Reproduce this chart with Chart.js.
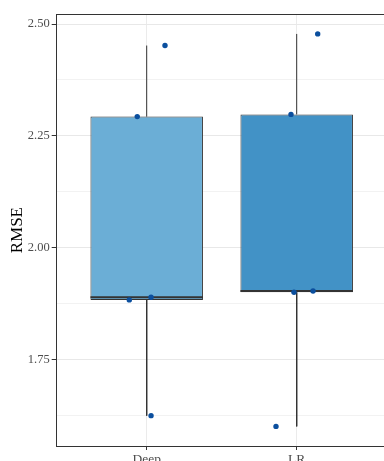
<!DOCTYPE html>
<html>
<head>
<meta charset="utf-8">
<script src="https://cdn.jsdelivr.net/npm/chart.js@4/dist/chart.umd.min.js"></script>
<style>
  html, body { margin: 0; padding: 0; background: #fff; overflow: hidden; }
  #wrap { width: 384px; height: 461px; }
</style>
</head>
<body>
<div id="wrap"><canvas id="c" width="384" height="461"></canvas></div>
<script>
// Model names on the x axis
const categories = ['Deep', 'LR'];
// RMSE per run, one array per model
const deepRmse = [2.452, 2.293, 1.883, 1.889, 1.624];
const lrRmse = [2.478, 2.298, 1.900, 1.903, 1.600];
// horizontal jitter of each point around its category (in category units)
const deepJitter = [0.122, -0.063, -0.116, 0.029, 0.029];
const lrJitter = [0.140, -0.038, -0.018, 0.109, -0.138];
// y axis ticks
const yMajorTicks = [1.75, 2.00, 2.25, 2.50];
const yMinorTicks = [1.625, 1.875, 2.125, 2.375];

const seriesValues = [deepRmse, lrRmse];
const seriesJitter = [deepJitter, lrJitter];
const boxColors = ['#6BAED6', '#4292C6'];

// quantile (linear interpolation between order statistics)
function quantile(sorted, p) {
  const h = (sorted.length - 1) * p;
  const lo = Math.floor(h), hi = Math.ceil(h);
  return sorted[lo] + (sorted[hi] - sorted[lo]) * (h - lo);
}
function boxStats(values) {
  const s = values.slice().sort((a, b) => a - b);
  const q1 = quantile(s, 0.25), med = quantile(s, 0.5), q3 = quantile(s, 0.75);
  const iqr = q3 - q1;
  const lo = Math.min(...s.filter(v => v >= q1 - 1.5 * iqr));
  const hi = Math.max(...s.filter(v => v <= q3 + 1.5 * iqr));
  return { q1, med, q3, lo, hi };
}

const stats = seriesValues.map(boxStats);
const halfWidth = 0.375;
const ink = '#333333';

const datasets = [];

// jittered observations (drawn on top)
datasets.push({
  type: 'scatter',
  order: 0,
  data: seriesValues.flatMap((vals, i) =>
    vals.map((v, k) => ({ x: i + 1 + seriesJitter[i][k], y: v }))),
  pointRadius: 2.7,
  pointHoverRadius: 2.7,
  backgroundColor: '#0B4F9E',
  borderWidth: 0
});

// medians and whiskers
stats.forEach((st, i) => {
  const x = i + 1;
  datasets.push({
    type: 'line', order: 1,
    data: [{ x: x - halfWidth, y: st.med }, { x: x + halfWidth, y: st.med }],
    borderColor: ink, borderWidth: 2, pointRadius: 0, fill: false
  });
  datasets.push({
    type: 'line', order: 3,
    data: [{ x: x, y: st.q3 }, { x: x, y: st.hi }],
    borderColor: ink, borderWidth: 1, pointRadius: 0, fill: false
  });
  datasets.push({
    type: 'line', order: 3,
    data: [{ x: x, y: st.q1 }, { x: x, y: st.lo }],
    borderColor: ink, borderWidth: 1, pointRadius: 0, fill: false
  });
});

// interquartile boxes
datasets.push({
  type: 'bar',
  order: 2,
  data: stats.map((st, i) => ({ x: i + 1, y: [st.q1, st.q3] })),
  backgroundColor: boxColors,
  borderColor: ink,
  borderWidth: 1,
  borderSkipped: false,
  barPercentage: 2 * halfWidth,
  categoryPercentage: 1
});

// top edge of the panel
const panelTop = {
  id: 'panelTop',
  afterDraw(chart) {
    const { ctx, chartArea } = chart;
    ctx.save();
    ctx.strokeStyle = ink;
    ctx.lineWidth = 1;
    ctx.beginPath();
    const y = Math.round(chartArea.top) + 0.5;
    ctx.moveTo(chartArea.left, y);
    ctx.lineTo(chartArea.right, y);
    ctx.stroke();
    ctx.restore();
  }
};

const serif = "'Liberation Serif', 'DejaVu Serif', serif";
const isMajor = v => yMajorTicks.some(t => Math.abs(t - v) < 1e-9);

new Chart(document.getElementById('c'), {
  type: 'scatter',
  data: { datasets },
  plugins: [panelTop],
  options: {
    responsive: false,
    animation: false,
    layout: { autoPadding: false, padding: { top: 14.3, left: 0, right: 0, bottom: 0 } },
    plugins: { legend: { display: false }, tooltip: { enabled: false } },
    scales: {
      x: {
        type: 'linear',
        min: 0.4,
        max: 2.582,
        offset: false,
        afterBuildTicks: s => { s.ticks = categories.map((c, i) => ({ value: i + 1 })); },
        afterFit: s => { s.height = 15; s.paddingLeft = 0; s.paddingRight = 0; },
        ticks: {
          callback: v => categories[Math.round(v) - 1] || '',
          color: '#4D4D4D',
          font: { family: serif, size: 13.5 },
          padding: 1,
          maxRotation: 0
        },
        grid: { offset: false, color: '#EBEBEB', lineWidth: 1, tickLength: 4, tickColor: ink },
        border: { display: true, color: ink, width: 1 }
      },
      y: {
        type: 'linear',
        min: 1.5561,
        max: 2.5219,
        beginAtZero: false,
        afterBuildTicks: s => {
          s.ticks = yMajorTicks.concat(yMinorTicks).sort((a, b) => a - b).map(v => ({ value: v }));
        },
        afterFit: s => { s.width = 56.7; s.paddingTop = 0; s.paddingBottom = 0; },
        ticks: {
          callback: v => isMajor(v) ? v.toFixed(2) : '',
          color: '#4D4D4D',
          font: { family: serif, size: 12.5 },
          padding: 2
        },
        grid: {
          color: c => (c.tick && isMajor(c.tick.value)) ? '#E8E8E8' : '#F2F2F2',
          lineWidth: 1,
          tickLength: 5,
          tickColor: c => (c.tick && isMajor(c.tick.value)) ? ink : 'rgba(0,0,0,0)'
        },
        border: { display: true, color: ink, width: 1 },
        title: {
          display: true,
          text: 'RMSE',
          color: '#000000',
          font: { family: serif, size: 17 },
          padding: { top: 7, bottom: 0 }
        }
      }
    }
  }
});
</script>
</body>
</html>
